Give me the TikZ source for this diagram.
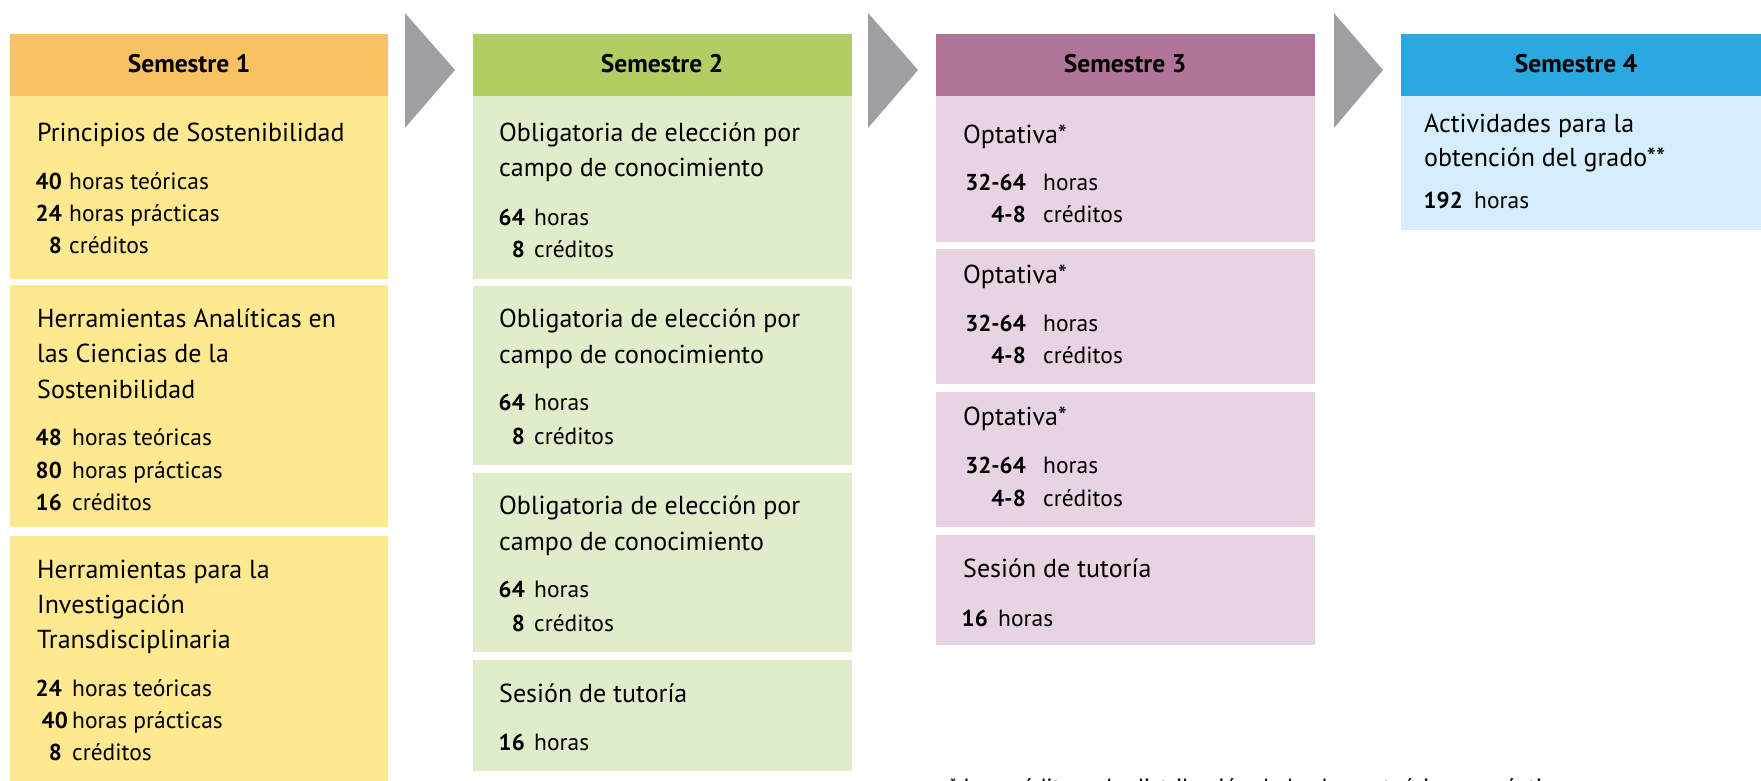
\documentclass[tikz,border=0pt]{standalone}
\usepackage{fontspec}
\setmainfont{PT Sans}
\definecolor{hA}{HTML}{F8C263}
\definecolor{bA}{HTML}{FEE990}
\definecolor{hB}{HTML}{B2CD62}
\definecolor{bB}{HTML}{E0EDCB}
\definecolor{hC}{HTML}{B07499}
\definecolor{bC}{HTML}{E7D3E2}
\definecolor{hD}{HTML}{29A9E0}
\definecolor{bD}{HTML}{D5EEFB}
\definecolor{arr}{HTML}{9D9FA2}
\tikzset{
  panel/.style={draw=none,inner sep=0pt,outer sep=0pt},
  hdr/.style={anchor=base,inner sep=0pt,font=\fontsize{25.5}{30}\selectfont\bfseries},
  ttl/.style={anchor=base west,inner sep=0pt,font=\fontsize{26}{31}\selectfont},
  num/.style={anchor=base east,inner sep=0pt,font=\fontsize{23}{28}\selectfont\bfseries},
  wrd/.style={anchor=base west,inner sep=0pt,font=\fontsize{23.5}{28}\selectfont},
  chev/.style={fill=arr,draw=none}
}
\newcommand\mybox[6]{\fill[#2] (#3,#4) rectangle (#5,#6) coordinate (#1);}
\newcommand\dl[6]{\node[num] (#1n) at (#2,#4) {#5}; \node[wrd] (#1w) at (#3,#4) {#6};}
\begin{document}
\begin{tikzpicture}[x=1pt,y=-1pt]
\useasboundingbox (0,0) rectangle (1761,781);
\clip (0,0) rectangle (1761,781);
% chevrons
\fill[chev] (405,13) -- (455,70) -- (405,128) -- cycle;
\fill[chev] (868,13) -- (918,70) -- (868,128) -- cycle;
\fill[chev] (1334,13) -- (1383,70) -- (1334,128) -- cycle;
% column 1
\mybox{h1}{hA}{10}{34}{388}{96}
\mybox{b11}{bA}{10}{96}{388}{279}
\mybox{b12}{bA}{10}{285}{388}{527}
\mybox{b13}{bA}{10}{536}{388}{800}
\node[hdr] (s1) at (189,73) {Semestre 1};
\node[ttl] (t11) at (37,142) {Principios de Sostenibilidad};
\dl{a1}{62}{69}{189}{40}{horas teóricas}
\dl{a2}{62}{69}{221}{24}{horas prácticas}
\dl{a3}{62}{69}{253}{8}{créditos}
\node[ttl] (t12a) at (37,327) {Herramientas Analíticas en};
\node[ttl] (t12b) at (37,362) {las Ciencias de la};
\node[ttl] (t12c) at (37,398) {Sostenibilidad};
\dl{a4}{62}{72}{445}{48}{horas teóricas}
\dl{a5}{62}{72}{478}{80}{horas prácticas}
\dl{a6}{62}{72}{510}{16}{créditos}
\node[ttl] (t13a) at (37,578) {Herramientas para la};
\node[ttl] (t13b) at (37,613) {Investigación};
\node[ttl] (t13c) at (37,648) {Transdisciplinaria};
\dl{a7}{62}{72}{696}{24}{horas teóricas}
\dl{a8}{68}{72}{728}{40}{horas prácticas}
\dl{a9}{62}{72}{760}{8}{créditos}
% column 2
\mybox{h2}{hB}{473}{34}{852}{96}
\mybox{b21}{bB}{473}{96}{852}{279}
\mybox{b22}{bB}{473}{286}{852}{465}
\mybox{b23}{bB}{473}{473}{852}{652}
\mybox{b24}{bB}{473}{660}{852}{771}
\node[hdr] (s2) at (662,73) {Semestre 2};
\node[ttl] (t21a) at (499,142) {Obligatoria de elección por};
\node[ttl] (t21b) at (499,176) {campo de conocimiento};
\dl{c1}{525}{534}{225}{64}{horas}
\dl{c2}{525}{534}{257}{8}{créditos}
\node[ttl] (t22a) at (499,327) {Obligatoria de elección por};
\node[ttl] (t22b) at (499,363) {campo de conocimiento};
\dl{c3}{525}{534}{410}{64}{horas}
\dl{c4}{525}{534}{444}{8}{créditos}
\node[ttl] (t23a) at (499,514) {Obligatoria de elección por};
\node[ttl] (t23b) at (499,550) {campo de conocimiento};
\dl{c5}{525}{534}{597}{64}{horas}
\dl{c6}{525}{534}{631}{8}{créditos}
\node[ttl] (t24) at (499,702) {Sesión de tutoría};
\dl{c7}{525}{534}{750}{16}{horas}
% column 3
\mybox{h3}{hC}{936}{34}{1315}{96}
\mybox{b31}{bC}{936}{96}{1315}{242}
\mybox{b32}{bC}{936}{249}{1315}{384}
\mybox{b33}{bC}{936}{392}{1315}{527}
\mybox{b34}{bC}{936}{535}{1315}{645}
\node[hdr] (s3) at (1125,73) {Semestre 3};
\node[ttl] (t31) at (963,143) {Optativa*};
\dl{e1}{1026}{1043}{190}{32-64}{horas}
\dl{e2}{1026}{1043}{222}{4-8}{créditos}
\node[ttl] (t32) at (963,283) {Optativa*};
\dl{e3}{1026}{1043}{331}{32-64}{horas}
\dl{e4}{1026}{1043}{363}{4-8}{créditos}
\node[ttl] (t33) at (963,425) {Optativa*};
\dl{e5}{1026}{1043}{473}{32-64}{horas}
\dl{e6}{1026}{1043}{506}{4-8}{créditos}
\node[ttl] (t34) at (963,577) {Sesión de tutoría};
\dl{e7}{988}{998}{626}{16}{horas}
% column 4
\mybox{h4}{hD}{1401}{34}{1770}{96}
\mybox{b41}{bD}{1401}{96}{1770}{230}
\node[hdr] (s4) at (1576,73) {Semestre 4};
\node[ttl] (t41a) at (1424,133) {Actividades para la};
\node[ttl] (t41b) at (1424,167) {obtención del grado**};
\dl{g1}{1463}{1474}{208}{192}{horas}
% footnote (cut off by the page edge, as in the reference)
\node[wrd] (fn) at (949,795) {* Los créditos y la distribución de las horas teóricas y prácticas};
\end{tikzpicture}
\end{document}
